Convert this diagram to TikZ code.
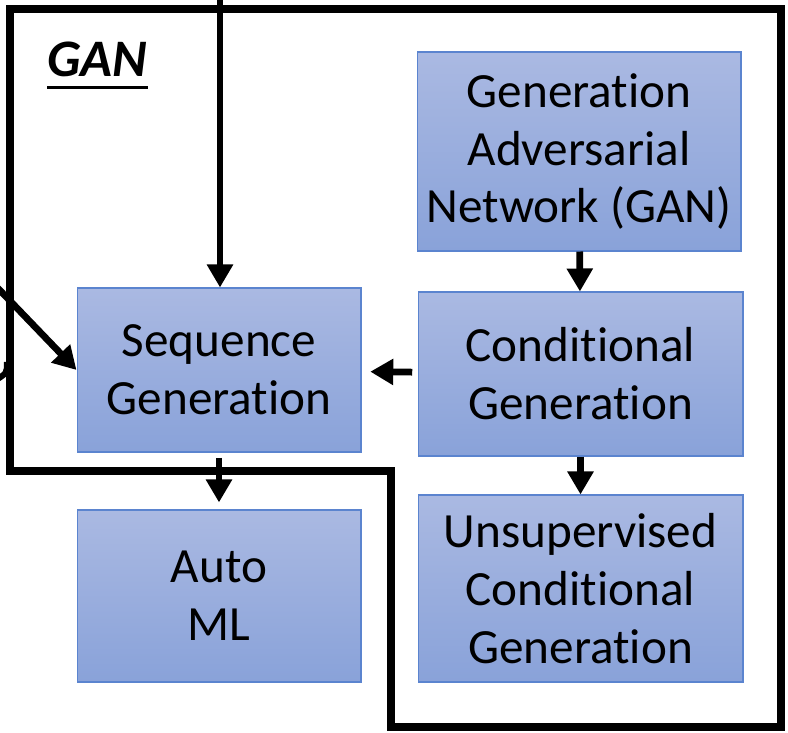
\documentclass[tikz,border=0pt]{standalone}
\usepackage{fontspec}
\setmainfont[Ligatures={NoCommon,NoContextual,NoRequired}]{Carlito}
\usepackage{tikz}
\usetikzlibrary{arrows.meta, positioning, calc}
\definecolor{boxtop}{HTML}{AAB9E2}
\definecolor{boxbot}{HTML}{89A2D9}
\definecolor{boxline}{HTML}{5B84CF}
\tikzstyle{block} = [rectangle, text centered, align=center, top color=boxtop, bottom color=boxbot, draw=boxline, line width=0.6pt, font=\fontsize{28}{33}\selectfont]
\tikzstyle{arrow} = [line width=0.135cm, -{Triangle[width=0.5cm,length=0.46cm]}]
\tikzstyle{frame} = [line width=0.15cm, line join=miter]

\begin{document}
\begin{tikzpicture}[x=0.02cm, y=-0.02cm]
    \useasboundingbox (0,0) rectangle (788,733);

    % GAN region
    \draw [frame] (10,9) -- (781,9) -- (781,727) -- (391,727) -- (391,471) -- (10,471) -- cycle;
    \node (ganlabel) [anchor=base west, inner sep=0pt, font=\fontsize{30}{36}\selectfont\bfseries\itshape] at (47,77) {GAN};
    \draw [line width=0.06cm] ($(ganlabel.base west)+(0,11)$) -- ($(ganlabel.base east)+(0,11)$);

    \node (gan) [block, minimum width=6.48cm, minimum height=3.98cm] at (579,151.5) {Generation\\Adversarial\\Network (GAN)};
    \node (cond) [block, minimum width=6.5cm, minimum height=3.28cm] at (580.5,374) {Conditional\\Generation};
    \node (unsup) [block, minimum width=6.5cm, minimum height=3.74cm] at (580.5,588.5) {Unsupervised\\Conditional\\Generation};
    \node (seq) [block, minimum width=5.68cm, minimum height=3.28cm] at (219,370) {Sequence\\Generation};
    \node (automl) [block, minimum width=5.68cm, minimum height=3.44cm] at (219,596) {Auto\\ML};

    % incoming from outside
    \coordinate (fromtop) at (220,-5);
    \coordinate (fromleft) at (-10,280);
    \coordinate (cutA) at (7,362);
    \coordinate (cutB) at (-4,380);

    \draw [arrow] (fromtop) -- (fromtop |- seq.north);
    \draw [arrow] (fromleft) -- (seq.west);
    \draw [line width=0.12cm] (cutA) .. controls (7,373) .. (cutB);

    \draw [arrow] (gan) -- (cond);
    \draw [arrow] (cond) -- (unsup);
    \draw [arrow, shorten <=3pt, shorten >=5pt] (cond) -- (seq);
    \draw [arrow, shorten <=3pt, shorten >=4pt] (seq) -- (automl);
\end{tikzpicture}
\end{document}
